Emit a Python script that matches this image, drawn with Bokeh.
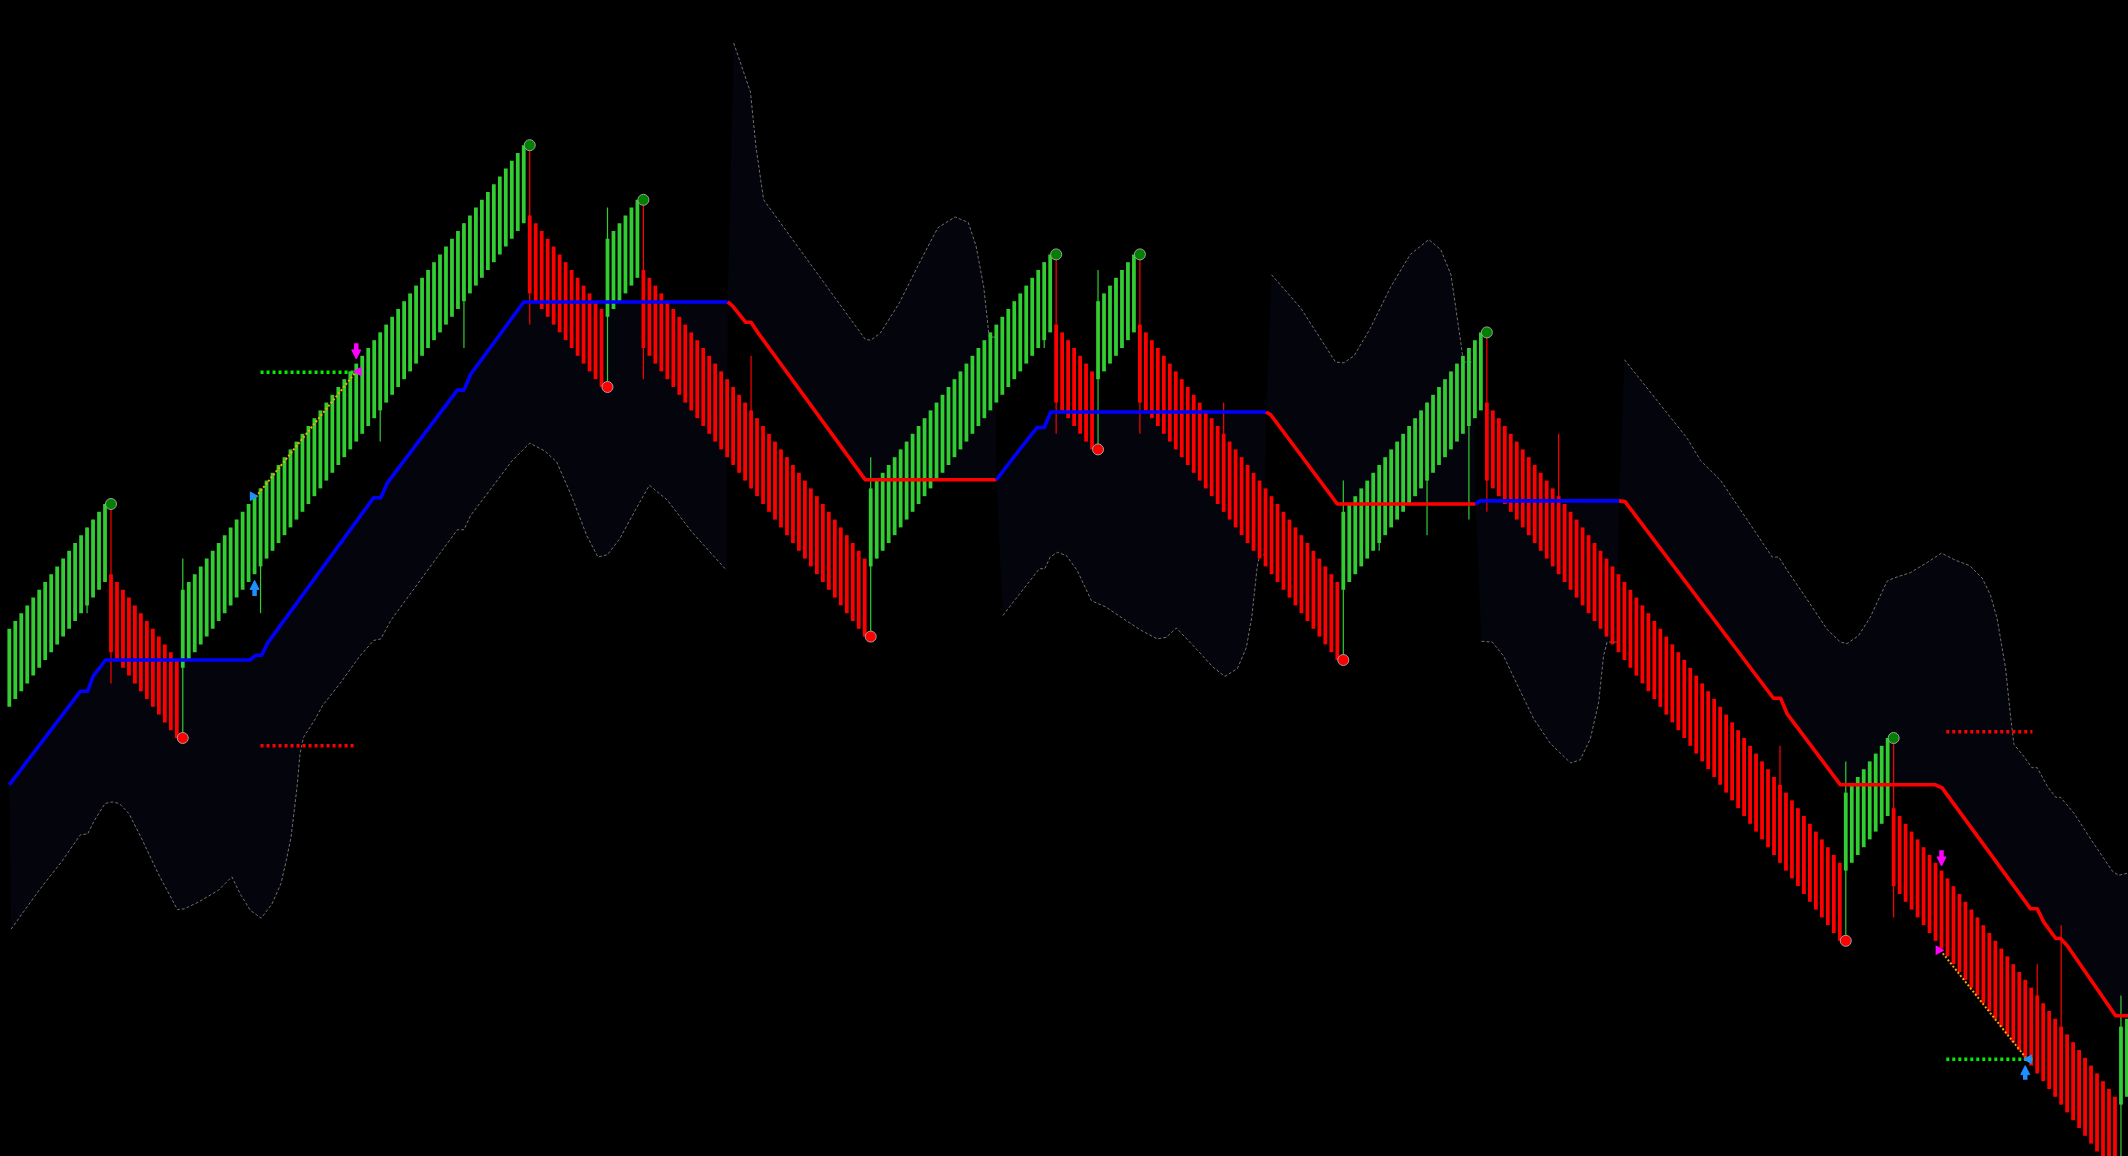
from bokeh.plotting import figure
from bokeh.models import ColumnDataSource, Range1d, Arrow, NormalHead
from bokeh.embed import file_html
from bokeh.resources import INLINE

try:
    from bokeh.models import GlobalInlineStyleSheet
    PAGE_CSS = [GlobalInlineStyleSheet(css="html,body{margin:0!important;padding:0!important;background:#000!important;overflow:hidden!important;}")]
    W, H = 2128, 1156
except Exception:
    PAGE_CSS = []
    W, H = 2112, 1140

# ---------------- data (bar index, price) ----------------
bar_close = [
    68, 69, 70, 71, 72, 73, 74, 75, 76, 77, 78, 79, 80, 81, 82, 83, 84,
    65, 64, 63, 62, 61, 60, 59, 58, 57, 56, 55, 54,
    73, 74, 75, 76, 77, 78, 79, 80, 81, 82, 83, 84, 85, 86, 87, 88, 89, 90, 91, 92, 93, 94, 95, 96, 97, 98, 99,
    100, 101, 102, 103, 104, 105, 106, 107, 108, 109, 110, 111, 112, 113, 114, 115, 116, 117, 118, 119, 120,
    121, 122, 123, 124, 125, 126, 127, 128, 129, 130,
    111, 110, 109, 108, 107, 106, 105, 104, 103, 102, 101, 100, 99,
    118, 119, 120, 121, 122, 123,
    104, 103, 102, 101, 100, 99, 98, 97, 96, 95, 94, 93, 92, 91, 90, 89, 88, 87, 86, 85, 84, 83, 82, 81, 80,
    79, 78, 77, 76, 75, 74, 73, 72, 71, 70, 69, 68, 67,
    86, 87, 88, 89, 90, 91, 92, 93, 94, 95, 96, 97, 98, 99, 100, 101, 102, 103, 104, 105, 106, 107, 108, 109,
    110, 111, 112, 113, 114, 115, 116,
    97, 96, 95, 94, 93, 92, 91,
    110, 111, 112, 113, 114, 115, 116,
    97, 96, 95, 94, 93, 92, 91, 90, 89, 88, 87, 86, 85, 84, 83, 82, 81, 80, 79, 78, 77, 76, 75, 74, 73, 72,
    71, 70, 69, 68, 67, 66, 65, 64,
    83, 84, 85, 86, 87, 88, 89, 90, 91, 92, 93, 94, 95, 96, 97, 98, 99, 100, 101, 102, 103, 104, 105, 106,
    87, 86, 85, 84, 83, 82, 81, 80, 79, 78, 77, 76, 75, 74, 73, 72, 71, 70, 69, 68, 67, 66, 65, 64, 63, 62,
    61, 60, 59, 58, 57, 56, 55, 54, 53, 52, 51, 50, 49, 48, 47, 46, 45, 44, 43, 42, 41, 40, 39, 38, 37, 36,
    35, 34, 33, 32, 31, 30, 29, 28,
    47, 48, 49, 50, 51, 52, 53, 54,
    35, 34, 33, 32, 31, 30, 29, 28, 27, 26, 25, 24, 23, 22, 21, 20, 19, 18, 17, 16, 15, 14, 13, 12, 11, 10,
    9, 8, 7, 6, 5, 4, 3, 2, 1, 0, -1, -2,
    17, 18,
]
bar_open = [
    58, 59, 60, 61, 62, 63, 64, 65, 66, 67, 68, 69, 70, 71, 72, 73, 74,
    75, 74, 73, 72, 71, 70, 69, 68, 67, 66, 65, 64,
    63, 64, 65, 66, 67, 68, 69, 70, 71, 72, 73, 74, 75, 76, 77, 78, 79, 80, 81, 82, 83, 84, 85, 86, 87, 88, 89,
    90, 91, 92, 93, 94, 95, 96, 97, 98, 99, 100, 101, 102, 103, 104, 105, 106, 107, 108, 109, 110,
    111, 112, 113, 114, 115, 116, 117, 118, 119, 120,
    121, 120, 119, 118, 117, 116, 115, 114, 113, 112, 111, 110, 109,
    108, 109, 110, 111, 112, 113,
    114, 113, 112, 111, 110, 109, 108, 107, 106, 105, 104, 103, 102, 101, 100, 99, 98, 97, 96, 95, 94, 93,
    92, 91, 90, 89, 88, 87, 86, 85, 84, 83, 82, 81, 80, 79, 78, 77,
    76, 77, 78, 79, 80, 81, 82, 83, 84, 85, 86, 87, 88, 89, 90, 91, 92, 93, 94, 95, 96, 97, 98, 99,
    100, 101, 102, 103, 104, 105, 106,
    107, 106, 105, 104, 103, 102, 101,
    100, 101, 102, 103, 104, 105, 106,
    107, 106, 105, 104, 103, 102, 101, 100, 99, 98, 97, 96, 95, 94, 93, 92, 91, 90, 89, 88, 87, 86, 85, 84,
    83, 82, 81, 80, 79, 78, 77, 76, 75, 74,
    73, 74, 75, 76, 77, 78, 79, 80, 81, 82, 83, 84, 85, 86, 87, 88, 89, 90, 91, 92, 93, 94, 95, 96,
    97, 96, 95, 94, 93, 92, 91, 90, 89, 88, 87, 86, 85, 84, 83, 82, 81, 80, 79, 78, 77, 76, 75, 74, 73, 72,
    71, 70, 69, 68, 67, 66, 65, 64, 63, 62, 61, 60, 59, 58, 57, 56, 55, 54, 53, 52, 51, 50, 49, 48, 47, 46,
    45, 44, 43, 42, 41, 40, 39, 38,
    37, 38, 39, 40, 41, 42, 43, 44,
    45, 44, 43, 42, 41, 40, 39, 38, 37, 36, 35, 34, 33, 32, 31, 30, 29, 28, 27, 26, 25, 24, 23, 22, 21, 20,
    19, 18, 17, 16, 15, 14, 13, 12, 11, 10, 9, 8,
    7, 8,
]

# bars that show a wick beyond the body
wick_bar  = [13, 17, 29, 42, 62, 76, 87, 100, 106, 124, 144, 173, 175, 182, 189, 203, 223, 229, 237, 244, 247, 259, 296, 307, 315, 339, 343, 353]
wick_high = [81, 84, 77, 86, 106, 120, 130, 122, 123, 103, 90, 115, 116, 114, 116, 97, 87, 89, 97, 104, 106, 93, 53, 51, 54, 25, 30, 21]
wick_low  = [70, 61, 54, 70, 92, 104, 107, 99, 100, 86, 67, 104, 93, 91, 93, 83, 64, 78, 80, 82, 83, 75, 38, 28, 31, 11, 7, -2]

# swing markers
peak_bar     = [17, 87, 106, 175, 189, 247, 315]
peak_price   = [84, 130, 123, 116, 116, 106, 54]
trough_bar   = [29, 100, 144, 182, 223, 307, 353]
trough_price = [54, 99, 67, 91, 64, 28, -2]

# trailing stop (up = blue, down = red)
stop1_bar   = [0.0, 11.9, 13.1, 14.0, 16.1, 40.2, 41.2, 42.2, 43.2, 60.9, 62.1, 63.2, 74.9, 76.0, 77.1, 86.0, 120.1]
stop1_price = [48.0, 60.0, 60.0, 61.9, 64.0, 64.0, 64.6, 64.6, 66.2, 84.8, 84.8, 86.7, 98.6, 98.6, 100.6, 109.9, 109.9]
stop2_bar   = [120.1, 120.9, 123.1, 124.0, 125.2, 143.1, 165.0]
stop2_price = [109.9, 109.4, 107.3, 107.3, 105.9, 87.1, 87.1]
stop3_bar   = [165.0, 168.6, 171.8, 173.0, 174.1, 210.1]
stop3_price = [87.1, 90.7, 93.8, 93.8, 95.8, 95.8]
stop4_bar   = [210.1, 210.9, 222.0, 245.1]
stop4_price = [95.8, 95.4, 84.0, 84.0]
stop5_bar   = [245.1, 245.9, 269.1]
stop5_price = [84.0, 84.4, 84.4]
stop6_bar   = [269.1, 270.1, 294.9, 296.1, 297.2, 306.1, 322.0, 323.1, 337.9, 339.0, 340.1, 342.1, 342.9, 344.0, 352.1, 354.6]
stop6_price = [84.4, 84.3, 59.1, 59.1, 57.1, 48.0, 48.0, 47.6, 32.1, 32.1, 30.4, 28.3, 28.3, 27.4, 18.4, 18.4]
stop_trend  = ["up", "down", "up", "down", "up", "down"]

# volatility envelope (lower in up trend, upper in down trend)
band1_bar   = [0.3, 5.0, 8.7, 11.9, 13.1, 14.2, 16.0, 17.2, 18.4, 20.0, 22.0, 24.9, 28.1, 29.3, 31.7, 35.0, 37.2,
               38.6, 40.3, 42.1, 43.9, 45.4, 46.3, 47.1, 48.1, 48.6, 49.2, 51.2, 52.4, 55.3, 58.5, 60.9, 62.1,
               62.6, 63.8, 74.9, 76.0, 77.1, 84.0, 87.0, 89.5, 91.5, 94.0, 96.5, 98.4, 100.0, 102.0, 104.5,
               107.0, 110.0, 114.0, 119.9]
band1_price = [29.5, 34.5, 38.1, 41.6, 41.7, 43.4, 45.6, 45.8, 45.6, 44.3, 41.3, 36.6, 32.0, 32.1, 33.0, 34.5, 36.2,
               34.0, 31.9, 30.9, 32.7, 35.3, 38.3, 41.3, 47.7, 52.0, 54.1, 56.5, 58.2, 61.0, 64.4, 66.5, 66.7,
               67.4, 69.1, 80.7, 80.7, 82.5, 89.5, 91.8, 90.8, 89.4, 85.0, 80.0, 77.2, 77.5, 79.5, 83.0,
               86.4, 84.5, 80.5, 75.5]
band2_bar   = [121.1, 123.9, 124.8, 126.1, 143.1, 144.0, 145.6, 148.8, 152.0, 155.2, 158.1, 160.3, 161.6, 162.9, 163.8, 164.9]
band2_price = [143.1, 136.8, 129.9, 123.0, 105.1, 105.0, 105.9, 109.8, 114.7, 119.4, 120.8, 120.1, 117.1, 111.8, 105.4, 105.4]
band3_bar   = [166.1, 168.0, 172.2, 173.1, 174.0, 175.2, 176.7, 178.5, 180.9, 183.3, 186.2, 189.2, 191.9, 193.4,
               195.1, 198.2, 201.2, 203.2, 205.3, 206.8, 207.7, 208.6, 209.0, 209.8]
band3_price = [69.7, 71.6, 75.7, 75.7, 77.2, 77.8, 77.4, 75.5, 71.6, 70.8, 69.3, 67.8, 66.7, 66.9,
               68.1, 65.6, 63.1, 61.9, 62.9, 65.6, 69.5, 75.9, 77.4, 77.5]
band4_bar   = [211.0, 215.9, 221.7, 223.1, 224.8, 227.5, 230.9, 234.2, 237.3, 239.3, 241.0, 242.0, 242.9, 243.1, 244.9]
band4_price = [113.4, 109.1, 102.2, 102.1, 103.0, 106.5, 111.8, 116.0, 117.9, 116.6, 113.4, 108.1, 103.3, 102.2, 102.2]
band5_bar   = [246.1, 247.9, 249.8, 252.1, 254.8, 257.6, 261.0, 262.6, 264.3, 265.7, 266.5, 267.1, 268.8]
band5_price = [66.4, 66.3, 64.5, 60.8, 56.5, 53.3, 50.8, 51.2, 53.9, 58.6, 64.5, 66.3, 66.3]
band6_bar   = [270.0, 280.5, 282.7, 286.1, 294.7, 295.8, 297.2, 300.5, 303.9, 306.1, 307.2, 309.1, 311.1, 313.9,
               315.0, 317.8, 320.6, 323.0, 325.3, 327.7, 329.8, 331.2, 332.3, 333.7, 334.5, 335.1, 336.7, 338.1,
               339.0, 340.7, 342.1, 342.9, 345.1, 348.5, 351.6, 352.6, 354.3]
band6_price = [102.5, 92.4, 89.6, 87.0, 77.2, 77.2, 75.5, 71.8, 67.9, 66.3, 66.1, 67.1, 69.5, 74.1,
               74.5, 75.2, 76.5, 77.7, 76.8, 76.1, 74.5, 72.3, 69.3, 63.0, 57.1, 53.2, 51.7, 50.2,
               50.2, 47.8, 46.4, 46.4, 44.4, 40.4, 36.9, 36.4, 36.7]

# pattern annotations
pattern_start_bar   = [41.2, 322.8]
pattern_start_price = [84.9, 26.8]
pattern_end_bar     = [57.7, 337.0]
pattern_end_price   = [100.7, 13.1]
zone_start_bar  = [42.0, 323.8]
zone_end_bar    = [57.6, 338.2]
target_level    = [100.9, 12.8]
risk_level      = [53.0, 54.8]
buy_arrow_bar   = [41, 337]
buy_arrow_tip   = [74.2, 12.0]
buy_arrow_tail  = [72.2, 10.2]
sell_arrow_bar  = [58, 323]
sell_arrow_tip  = [102.6, 37.6]
sell_arrow_tail = [104.6, 39.6]
buy_tri_bar   = [40.7, 337.6]
buy_tri_price = [85.0, 12.8]
buy_tri_dir   = ["right", "left"]
sell_tri_bar   = [58.4, 322.5]
sell_tri_price = [101.0, 26.8]
sell_tri_dir   = ["left", "right"]

# ---------------- styling ----------------
GREEN = "#32CD32"
RED = "#FF0000"
BLUE = "#0000FF"
SHADE = "#04040d"
ENVELOPE = "#707070"

p = figure(width=W, height=H,
           x_range=Range1d(-1.471, 354.26), y_range=Range1d(0.346, 148.55),
           output_backend="svg", toolbar_location=None,
           x_axis_location=None, y_axis_location=None,
           min_border=0, min_border_left=0, min_border_right=0, min_border_top=0, min_border_bottom=0,
           background_fill_color="#000000", border_fill_color="#000000", outline_line_color=None)
p.grid.visible = False
if PAGE_CSS:
    p.stylesheets = PAGE_CSS

stops = [(stop1_bar, stop1_price), (stop2_bar, stop2_price), (stop3_bar, stop3_price),
         (stop4_bar, stop4_price), (stop5_bar, stop5_price), (stop6_bar, stop6_price)]
bands = [(band1_bar, band1_price), (band2_bar, band2_price), (band3_bar, band3_price),
         (band4_bar, band4_price), (band5_bar, band5_price), (band6_bar, band6_price)]

# shaded zone between stop and envelope
shade_xs = [list(sx) + list(reversed(bx)) for (sx, sy), (bx, by) in zip(stops, bands)]
shade_ys = [list(sy) + list(reversed(by)) for (sx, sy), (bx, by) in zip(stops, bands)]
p.patches(shade_xs, shade_ys, fill_color=SHADE, line_color=None)

# envelope curves
p.multi_line([b[0] for b in bands], [b[1] for b in bands], line_color=ENVELOPE,
             line_width=1, line_dash="3 2")

# bars
bar_index = list(range(len(bar_close)))
bar_color = [GREEN if c > o else RED for o, c in zip(bar_open, bar_close)]
bar_src = ColumnDataSource(dict(
    x=bar_index,
    top=[max(o, c) for o, c in zip(bar_open, bar_close)],
    bottom=[min(o, c) for o, c in zip(bar_open, bar_close)],
    color=bar_color))
wick_src = ColumnDataSource(dict(x=wick_bar, hi=wick_high, lo=wick_low,
                                 color=[bar_color[b] for b in wick_bar]))
p.segment(x0="x", y0="lo", x1="x", y1="hi", line_color="color", line_width=1.2, source=wick_src)
p.vbar(x="x", top="top", bottom="bottom", width=0.63, fill_color="color", line_color=None, source=bar_src)

# trailing stop
for (sx, sy), trend in zip(stops, stop_trend):
    p.line(sx, sy, line_color=BLUE if trend == "up" else RED, line_width=3.6, line_join="round")

# swing circles
p.scatter(peak_bar, peak_price, size=11, fill_color="#008000", line_color="#a0a0a0", line_width=1)
p.scatter(trough_bar, trough_price, size=11, fill_color=RED, line_color="#a0a0a0", line_width=1)

# pattern zones
p.segment(zone_start_bar, target_level, zone_end_bar, target_level,
          line_color="#00ee00", line_width=3.5, line_dash="3 3")
p.segment(zone_start_bar, risk_level, zone_end_bar, risk_level,
          line_color=RED, line_width=3.5, line_dash="3 3")
p.segment(pattern_start_bar, pattern_start_price, pattern_end_bar, pattern_end_price,
          line_color="#FFA500", line_width=2, line_dash="2 2")

ANG = {"right": -1.5708, "left": 1.5708}
p.scatter(buy_tri_bar, buy_tri_price, marker="triangle", size=10,
          angle=[ANG[d] for d in buy_tri_dir], fill_color="#1E90FF", line_color=None)
p.scatter(sell_tri_bar, sell_tri_price, marker="triangle", size=10,
          angle=[ANG[d] for d in sell_tri_dir], fill_color="#FF00FF", line_color=None)

buy_src = ColumnDataSource(dict(x=buy_arrow_bar, y0=buy_arrow_tail, y1=buy_arrow_tip))
sell_src = ColumnDataSource(dict(x=sell_arrow_bar, y0=sell_arrow_tail, y1=sell_arrow_tip))
p.add_layout(Arrow(end=NormalHead(size=9, fill_color="#1E90FF", line_color="#1E90FF", line_width=1),
                   source=buy_src, x_start="x", y_start="y0", x_end="x", y_end="y1",
                   line_color="#1E90FF", line_width=4.5))
p.add_layout(Arrow(end=NormalHead(size=9, fill_color="#FF00FF", line_color="#FF00FF", line_width=1),
                   source=sell_src, x_start="x", y_start="y0", x_end="x", y_end="y1",
                   line_color="#FF00FF", line_width=4.5))

open("out.html", "w").write(file_html(p, INLINE))
